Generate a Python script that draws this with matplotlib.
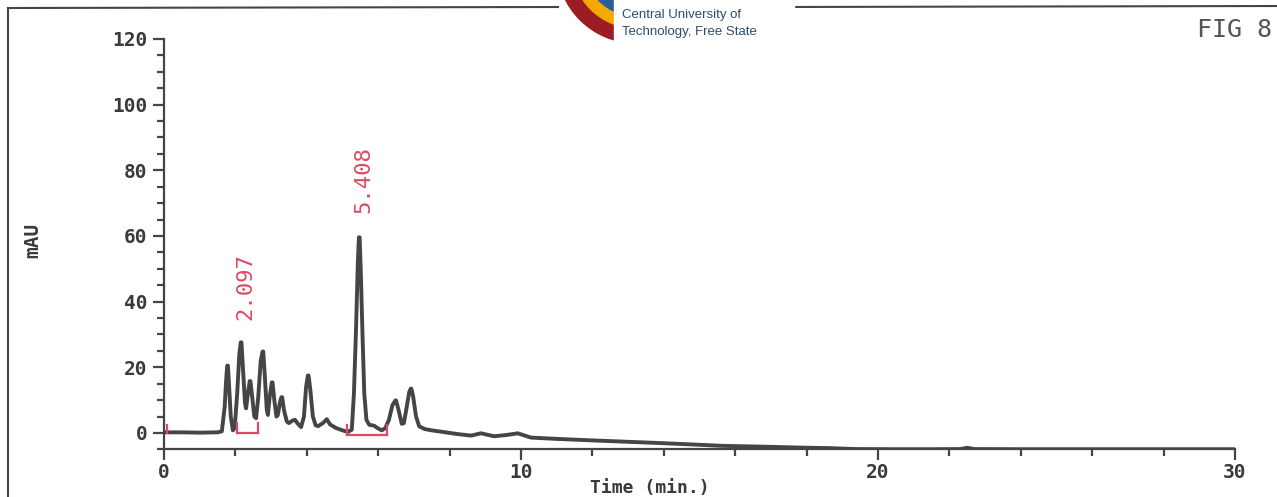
import matplotlib
matplotlib.use("Agg")
import matplotlib.pyplot as plt
from matplotlib.ticker import MultipleLocator
from matplotlib.patches import Circle, Rectangle

# Chromatogram trace: retention time (min) and signal (mAU)
time_min = [0.0, 0.5, 1.0, 1.5, 1.62, 1.70, 1.74, 1.77, 1.79, 1.82, 1.87, 1.93, 1.98,
            2.05, 2.11, 2.15, 2.17, 2.21, 2.27, 2.30, 2.35, 2.40, 2.42, 2.46, 2.53, 2.58,
            2.64, 2.71, 2.76, 2.78, 2.82, 2.88, 2.91, 2.96, 3.02, 3.04, 3.09, 3.15, 3.19,
            3.25, 3.29, 3.31, 3.36, 3.44, 3.50, 3.60, 3.67, 3.75, 3.84, 3.92, 3.98,
            4.03, 4.05, 4.10, 4.17, 4.25, 4.32, 4.45, 4.56, 4.65, 4.82, 5.00, 5.15,
            5.26, 5.32, 5.38, 5.43, 5.46, 5.48, 5.51, 5.56, 5.61, 5.67, 5.75, 5.89,
            5.98, 6.10, 6.20, 6.30, 6.40, 6.48, 6.50, 6.57, 6.66, 6.72, 6.80, 6.87,
            6.91, 6.93, 6.98, 7.06, 7.15, 7.30, 7.50, 7.76, 8.20, 8.60, 8.88, 9.25,
            9.60, 9.91, 10.28, 11.0, 11.87, 12.8, 13.73, 14.6, 15.6, 16.9,
            18.0, 18.6, 19.43, 20.5, 21.5, 22.3, 22.5, 22.7, 24.0, 30.0]
signal_mau = [0.2, 0.2, 0.1, 0.2, 0.5, 8, 16, 20.5, 20.5, 15, 5, 0.8, 1.5,
              12, 24, 27.6, 27.6, 20, 9, 7.5, 12, 15.8, 15.8, 12, 5, 4.5,
              11, 22, 24.8, 24.8, 18, 7, 5.5, 11, 15.4, 15.4, 10, 5, 5.5,
              9.5, 10.9, 10.9, 7, 3.5, 3, 3.8, 4, 2.8, 1.8, 5, 14,
              17.5, 17.5, 13, 5, 2.3, 2.1, 3, 4.2, 2.6, 1.5, 0.8, 0.3,
              1, 12, 32, 52, 59.6, 59.6, 50, 30, 12, 4, 2.5, 2.2,
              1.5, 0.8, 1.5, 4, 8.5, 9.9, 9.9, 7, 2.8, 3, 8, 12.5,
              13.5, 13.5, 11, 5, 2, 1.2, 0.8, 0.4, -0.3, -0.8, -0.1, -1.0,
              -0.6, -0.1, -1.4, -1.8, -2.2, -2.6, -3.0, -3.4, -3.9, -4.2,
              -4.5, -4.6, -4.9, -4.95, -4.95, -4.9, -4.5, -4.9, -4.95, -4.95]

# Integration baselines (start, end, level) and annotated retention times
base_start = [2.05, 5.14]
base_end = [2.64, 6.25]
base_level = [0.0, -0.5]
start_mark = 0.08
peak_rt = [2.097, 5.408]
label_x = [2.27, 5.58]
label_y = [34.5, 67.0]

W, H = 1277, 497
fig = plt.figure(figsize=(W / 100, H / 100), dpi=100)
fig.patch.set_facecolor("white")

ink = "#454545"
red = "#dc4a62"
mono = "DejaVu Sans Mono"

ax = fig.add_axes([164 / W, 1 - 449.4 / H, (1235 - 164) / W, (449.4 - 39) / H])
ax.plot(time_min, signal_mau, color=ink, lw=2.8, solid_joinstyle="round")

# red integration marks
for s, e, lv in zip(base_start, base_end, base_level):
    ax.plot([s, e], [lv, lv], color=red, lw=1.6)
    ax.plot([s, s], [lv, lv + 3], color=red, lw=1.6)
    ax.plot([e, e], [lv, lv + 3], color=red, lw=1.6)
ax.plot([start_mark, start_mark], [0, 2.5], color=red, lw=1.6)

for rt, lx, ly in zip(peak_rt, label_x, label_y):
    ax.text(lx, ly, f"{rt:.3f}", rotation=90, ha="center", va="bottom",
            color=red, fontsize=16, family=mono)

ax.set_xlim(0, 30)
ax.set_ylim(-5, 120)
ax.set_facecolor("none")
for side in ["top", "right"]:
    ax.spines[side].set_visible(False)
for side in ["left", "bottom"]:
    ax.spines[side].set_color(ink)
    ax.spines[side].set_linewidth(1.6)

ax.set_xticks([0, 10, 20, 30])
ax.set_yticks(range(0, 121, 20))
ax.xaxis.set_minor_locator(MultipleLocator(2))
ax.yaxis.set_minor_locator(MultipleLocator(5))
ax.tick_params(which="major", direction="out", length=8, width=1.6, color=ink,
               labelsize=14, labelcolor="#3a3a3a", pad=4)
ax.tick_params(axis="x", which="major", pad=2)
ax.tick_params(which="minor", direction="out", length=5, width=1.6, color=ink)
for lab in ax.get_xticklabels() + ax.get_yticklabels():
    lab.set_family(mono)
    lab.set_fontweight("bold")

# axis titles placed in figure pixels so the bottom one stays inside the page
fig.text(650 / W, 1 - 479 / H, "Time (min.)", family=mono, fontsize=13,
         fontweight="bold", color="#3a3a3a", ha="center", va="top")
fig.text(33 / W, 1 - 240 / H, "mAU", family=mono, fontsize=14, fontweight="bold",
         color="#3a3a3a", ha="center", va="center", rotation=90)

# page decorations: frame, logo, figure number (pixel coordinates)
deco = fig.add_axes([0, 0, 1, 1])
deco.set_xlim(0, W)
deco.set_ylim(H, 0)
deco.axis("off")
deco.patch.set_alpha(0)
deco.plot([8, 8], [8, H], color=ink, lw=1.5)
deco.plot([8, 558], [8, 7], color=ink, lw=1.5)
deco.plot([786, W], [7, 6], color=ink, lw=1.5)

deco.add_patch(Circle((636, -36), 79, color="#9b1c22", zorder=2))
deco.add_patch(Circle((636, -36), 64, color="#f2a900", zorder=3))
deco.add_patch(Circle((636, -36), 52, color="#2a5d9a", zorder=4))
deco.add_patch(Rectangle((614, -5), 180, 60, color="white", zorder=5))
deco.text(622, 15, "Central University of", fontsize=9.5, family="Liberation Sans",
          color="#2d4d6e", va="center", ha="left", zorder=6)
deco.text(622, 32, "Technology, Free State", fontsize=9.5, family="Liberation Sans",
          color="#2d4d6e", va="center", ha="left", zorder=6)

deco.text(1272, 30, "FIG 8", fontsize=18, family=mono, color="#555555",
          ha="right", va="center")

fig.savefig("out.png", dpi=100)
